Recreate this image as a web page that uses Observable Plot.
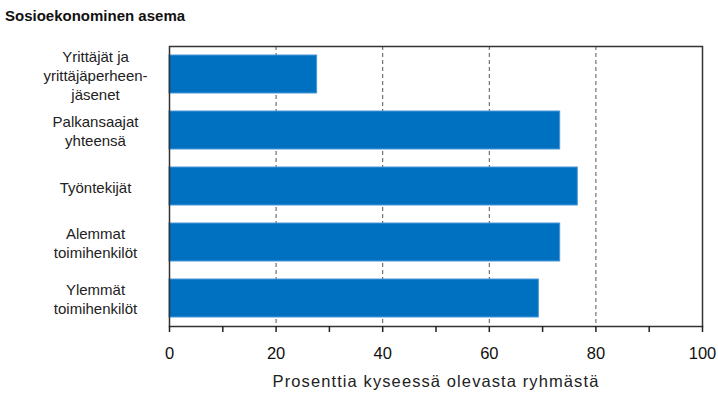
<!DOCTYPE html>
<html>
<head>
<meta charset="utf-8">
<script src="https://cdn.jsdelivr.net/npm/d3@7"></script>
<script src="https://cdn.jsdelivr.net/npm/@observablehq/plot@0.6"></script>
<style>
  html, body { margin: 0; padding: 0; background: #fff; }
  #wrap { width: 718px; height: 401px; position: relative; overflow: hidden; font-family: "Liberation Sans", Arial, sans-serif; }
  #title { height: 30px; box-sizing: border-box; padding-left: 5px; padding-top: 8px; font-weight: bold; font-size: 15px; color: #111; line-height: 16px; }
  svg { display: block; }
</style>
</head>
<body>
<div id="wrap">
  <div id="title">Sosioekonominen asema</div>
  <div id="chart"></div>
</div>
<script>
const categories = [
  "Yrittäjät ja\nyrittäjäperheen-\njäsenet",
  "Palkansaajat\nyhteensä",
  "Työntekijät",
  "Alemmat\ntoimihenkilöt",
  "Ylemmät\ntoimihenkilöt"
];
const values = [27.7, 73.3, 76.6, 73.3, 69.3];
const xTicks = [0, 10, 20, 30, 40, 50, 60, 70, 80, 90, 100];
const xTickLabels = ["0", "", "20", "", "40", "", "60", "", "80", "", "100"];
const gridValues = [20, 40, 60, 80];
const xLabel = "Prosenttia kyseessä olevasta ryhmästä";

const data = categories.map((c, i) => ({category: c, value: values[i]}));

const chart = Plot.plot({
  width: 718,
  height: 371,
  marginTop: 16,
  marginBottom: 75,
  marginLeft: 169,
  marginRight: 16,
  style: {fontFamily: "'Liberation Sans', Arial, sans-serif", background: "#fff", color: "#111"},
  x: {domain: [0, 100]},
  y: {domain: categories, paddingInner: 0.33, paddingOuter: 0.16},
  marks: [
    Plot.ruleX(gridValues, {stroke: "#555", strokeWidth: 1, strokeDasharray: "4,3"}),
    Plot.barX(data, {x: "value", y: "category", fill: "#0070c0", stroke: "#4b98d8", strokeWidth: 1}),
    Plot.frame({stroke: "#333", strokeWidth: 1.5}),
    Plot.axisX({
      ticks: xTicks,
      tickFormat: (d) => xTickLabels[xTicks.indexOf(d)],
      tickSize: 6,
      tickPadding: 15,
      fontSize: 16.5,
      stroke: "#222",
      strokeWidth: 1.5,
      label: null
    }),
    Plot.axisY({ticks: [], label: null}),
    Plot.text(data, {
      y: "category",
      text: "category",
      frameAnchor: "left",
      dx: -74,
      textAnchor: "middle",
      lineHeight: 1.27,
      fontSize: 15,
      fill: "#222",
      style: "letter-spacing: 1.1px"
    }),
    Plot.text([xLabel], {
      text: d => d,
      frameAnchor: "bottom",
      dy: 60,
      fontSize: 16.5,
      fill: "#222"
    })
  ]
});
chart.querySelectorAll("text").forEach(t => {
  if (t.textContent === xLabel) t.style.letterSpacing = "1.1px";
});
document.getElementById("chart").appendChild(chart);
</script>
</body>
</html>
